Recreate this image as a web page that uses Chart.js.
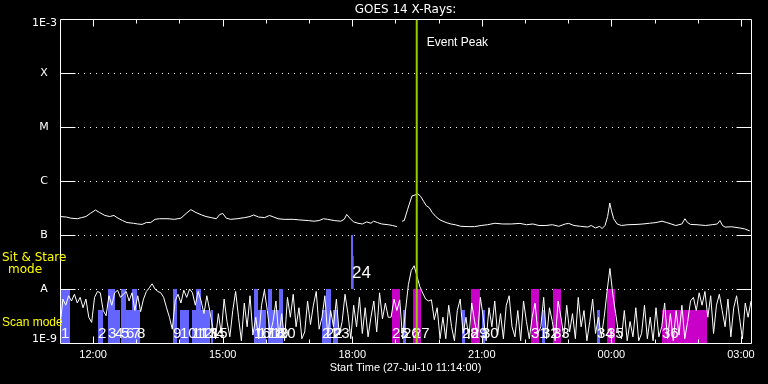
<!DOCTYPE html>
<html><head><meta charset="utf-8">
<script src="https://cdn.jsdelivr.net/npm/chart.js@4/dist/chart.umd.min.js"></script>
<style>html,body{margin:0;padding:0;background:#000;overflow:hidden}#wrap{width:768px;height:384px;position:relative}</style>
</head><body><div id="wrap"><canvas id="c" width="768" height="384"></canvas></div>
<script>
// ---------- text ----------
const titleText = 'GOES 14 X-Rays:';
const xAxisTitle = 'Start Time (27-Jul-10 11:14:00)';
const eventLabel = 'Event Peak';
const sitLabel = ['Sit & Stare', 'mode'];
const scanLabel = 'Scan mode';

// ---------- axes (x in hours after 11:14) ----------
const xMinHours = 0;
const xMaxHours = 16;
const xMajorHours = [0.767, 3.767, 6.767, 9.767, 12.767, 15.767];
const xMajorLabels = ['12:00', '15:00', '18:00', '21:00', '00:00', '03:00'];
const xMinorHours = [1.767, 2.767, 4.767, 5.767, 7.767, 8.767, 10.767, 11.767, 13.767, 14.767];
const yTickValues = [1e-9, 1e-8, 1e-7, 1e-6, 1e-5, 1e-4, 1e-3];
const yTickLabels = ['1E-9', 'A', 'B', 'C', 'M', 'X', '1E-3'];

// ---------- event ----------
const eventPeakHours = 8.26;

// ---------- GOES long channel (1-8 A), flux in units of 1e-7 W/m2 ----------
const longTimeH = [0.00,0.15,0.25,0.40,0.50,0.60,0.70,0.82,0.92,1.04,
1.15,1.25,1.32,1.45,1.55,1.70,1.80,1.90,2.00,2.10,
2.20,2.30,2.50,2.65,2.80,2.92,3.03,3.15,3.28,3.38,
3.50,3.62,3.70,3.77,3.85,3.95,4.10,4.28,4.40,4.48,
4.60,4.74,4.85,4.95,5.05,5.19,5.40,5.55,5.75,5.88,
6.00,6.10,6.20,6.35,6.50,6.58,6.64,6.72,6.80,6.90,
7.00,7.10,7.20,7.26,7.35,7.45,7.60,7.70,7.80,7.85,
7.92,7.97,8.05,8.15,8.22,8.28,8.35,8.42,8.48,8.55,
8.62,8.70,8.80,8.94,9.05,9.15,9.28,9.45,9.60,9.75,
9.90,10.07,10.25,10.45,10.65,10.80,10.95,11.09,11.25,11.40,
11.55,11.70,11.78,11.90,12.05,12.22,12.30,12.40,12.50,12.55,
12.62,12.68,12.73,12.77,12.82,12.90,13.00,13.15,13.36,13.50,
13.65,13.80,13.94,14.05,14.15,14.26,14.40,14.47,14.53,14.60,
14.75,14.95,15.10,15.22,15.28,15.34,15.40,15.55,15.74,15.85,
15.97];
const longFluxE7 = [2.2,2.15,2.05,2.0,2.1,2.2,2.5,2.9,2.6,2.3,
2.2,2.3,2.1,1.85,1.7,1.65,1.6,1.57,1.7,1.7,
1.95,2.0,2.0,1.95,2.05,2.5,2.95,2.6,2.35,2.2,
2.1,2.0,2.4,2.5,2.05,1.95,2.0,2.1,2.2,2.35,
2.15,2.1,2.3,2.15,2.0,1.95,1.95,1.9,1.85,1.8,
1.85,2.0,1.95,1.85,1.8,1.95,2.4,2.0,1.75,1.65,
1.6,1.75,1.65,1.8,1.7,1.6,1.55,1.5,1.43,null,
1.8,1.85,3.0,5.3,5.5,5.85,5.2,4.2,3.5,3.2,
2.6,2.2,1.9,1.7,1.6,1.55,1.45,1.43,1.43,1.5,
1.55,1.65,1.6,1.6,1.64,1.55,1.6,1.5,1.5,1.55,
1.45,1.6,1.64,1.5,1.45,1.4,1.5,1.35,1.45,1.31,
1.5,2.2,3.9,2.8,2.0,1.6,1.5,1.55,1.57,1.6,
1.65,1.7,1.8,1.7,1.6,1.5,1.6,2.0,1.7,1.57,
1.55,1.5,1.55,1.6,1.85,1.5,1.4,1.42,1.35,1.3,
1.19];

// ---------- GOES short channel (0.5-4 A), one sample every 4 min, units of 1e-9 W/m2 ----------
const shortStepHours = 4 / 60;
const shortFluxE9 = [
2.0,6.5,5.0,7.5,6.0,8.0,5.5,7.0,4.5,6.5, 3.0,2.4,7.0,9.0,8.5,4.0,3.2,7.5,5.0,8.5,
9.5,7.0,8.0,9.0,6.0,8.5,4.0,7.5,3.8,6.5, 9.0,10.5,12.5,10.0,9.0,8.5,
7.0,4.5,3.0,1.8,6.0,8.0,5.5,9.5,7.0,10.0, 8.5,5.0,9.0,6.0,3.5,7.5,4.0,
2.0,1.2,3.5,1.5,6.5,2.5,1.3,4.0,9.0,3.0, 1.1,5.5,2.0,7.5,1.4,3.0,1.2,5.0,9.5,4.0,
1.5,2.5,6.0,1.3,3.5,1.1,7.0,3.0,8.0,2.0, 4.5,1.2,1.6,6.0,2.2,5.0,9.0,1.8,3.0,7.5,
1.3,4.0,2.0,6.5,1.4,2.5,8.0,3.5,1.2,5.0, 2.0,7.0,1.5,4.5,1.3,3.0,6.0,1.6,8.5,2.8,
5.5,3.0,
3.0,6.5,4.0,6.3,1.2,4.0,12,22,27,17, 11,8.4,6.5,6.0,6.3,2.7,4.5,1.2,
3.0,1.2,5.0,2.0,1.1,4.0,6.5,1.5,3.0,1.2, 5.5,2.5,1.3,7.0,3.0,1.1,4.5,2.0,6.0,1.4,
3.5,1.2,5.0,7.5,2.0,1.3,4.0,1.1,6.0,2.5, 1.2,3.0,5.5,1.5,2.0,7.0,1.2,4.5,2.5,1.1,
6.0,3.0,1.3,5.0,1.6,3.5,1.2,7.0,2.0,4.0, 1.1,2.5,6.5,1.5,3.0,1.3,
3.0,9.0,24,8.0,3.5,1.5,
1.2,4.0,1.1,2.5,1.3,4.5,1.1,1.5,5.0,1.2, 3.0,1.1,4.5,1.3,2.0,5.5,1.2,3.5,1.1,4.0,
1.4,5.0,1.2,2.5,6.0,
7.0,4.0,8.5,5.0,9.0,3.0,7.5,1.5,5.0,8.0, 4.0,2.0,6.5,1.3,4.5,7.5,3.0,1.2,5.5,3.0,
6.0];

// ---------- EIS rasters (hours after start, flux levels, kind b=scan / m=sit) ----------
const rasterLabel = ['1','2','3','4','5','6','7','8','9','10','11','12','13','14','15',
'16','17','18','19','20','21','22','23','24','','25','26','27','28','29','30','31','32','33','34','35','36'];
const rasterStartH = [0.023,0.880,1.111,1.274,1.412,1.528,1.667,1.783,2.616,2.779,3.056,3.149,3.265,3.427,3.496,
4.492,4.585,4.816,4.909,5.071,6.067,6.159,6.321,6.738,6.784,7.687,7.942,8.174,9.308,9.517,9.771,10.906,11.160,11.415,12.434,12.666,13.939];
const rasterEndH = [0.232,0.996,1.274,1.389,1.528,1.667,1.783,1.852,2.709,2.987,3.149,3.265,3.427,3.473,3.543,
4.585,4.770,4.909,5.071,5.164,6.159,6.275,6.437,6.784,6.819,7.873,8.012,8.359,9.378,9.725,9.841,11.091,11.230,11.600,12.503,12.851,14.981];
const rasterLow = [1e-9,1e-9,1e-9,1e-9,1e-9,1e-9,1e-9,1e-9,1e-9,1e-9,1e-9,1e-9,1e-9,1e-9,1e-9,
1e-9,1e-9,1e-9,1e-9,1e-9,1e-9,1e-9,1e-9,1e-8,1e-8,1e-9,1e-9,1e-9,1e-9,1e-9,1e-9,1e-9,1e-9,1e-9,1e-9,1e-9,1e-9];
const rasterHigh = [1e-8,4.1e-9,1e-8,4.1e-9,1e-8,4.1e-9,1e-8,4.1e-9,1e-8,4.1e-9,4.1e-9,1e-8,4.1e-9,4.1e-9,4.1e-9,
1e-8,4.1e-9,1e-8,4.1e-9,1e-8,4.1e-9,1e-8,4.1e-9,1e-7,4.1e-8,1e-8,4.1e-9,1e-8,4.1e-9,1e-8,4.1e-9,1e-8,4.1e-9,1e-8,4.1e-9,1e-8,4.1e-9];
const rasterKind = ['b','b','b','b','b','b','b','b','b','b','b','b','b','b','b',
'b','b','b','b','b','b','b','b','b','m','m','b','m','b','m','b','m','b','m','b','m','m'];

// ---------- build ----------
const kindColor = { b: '#6464ff', m: '#c800c8' };
const longData = longTimeH.map((t, i) => ({ x: t, y: longFluxE7[i] === null ? null : longFluxE7[i] * 1e-7 }));
const shortData = shortFluxE9.map((v, i) => ({ x: i * shortStepHours, y: v * 1e-9 }));
const eventData = [{ x: eventPeakHours, y: yTickValues[0] }, { x: eventPeakHours, y: yTickValues[yTickValues.length - 1] }];

const FONT_SANS = '"Liberation Sans", Arial, sans-serif';
const FONT_DV = '"DejaVu Sans", sans-serif';

const idlPlugin = {
  id: 'idl',
  beforeDraw(chart) {
    const ctx = chart.ctx;
    ctx.save(); ctx.fillStyle = '#000'; ctx.fillRect(0, 0, chart.width, chart.height); ctx.restore();
  },
  beforeDatasetsDraw(chart) {
    const { ctx, chartArea: a, scales: { x, y } } = chart;
    ctx.save();
    // dotted decade lines
    ctx.strokeStyle = '#fff'; ctx.lineWidth = 1; ctx.setLineDash([1, 5]);
    for (let i = 1; i < yTickValues.length - 1; i++) {
      const py = Math.round(y.getPixelForValue(yTickValues[i])) + 0.5;
      ctx.beginPath(); ctx.moveTo(a.left + 18, py); ctx.lineTo(a.right - 14, py); ctx.stroke();
    }
    ctx.setLineDash([]);
    // raster bars
    for (let i = 0; i < rasterStartH.length; i++) {
      const x0 = Math.round(x.getPixelForValue(rasterStartH[i]));
      const x1 = Math.round(x.getPixelForValue(rasterEndH[i]));
      const y0 = Math.round(y.getPixelForValue(rasterLow[i]));
      const y1 = Math.round(y.getPixelForValue(rasterHigh[i]));
      ctx.fillStyle = kindColor[rasterKind[i]];
      ctx.fillRect(x0, y1, Math.max(1, x1 - x0), y0 - y1);
    }
    // raster numbers
    ctx.fillStyle = '#fff'; ctx.textAlign = 'left'; ctx.textBaseline = 'alphabetic';
    for (let i = 0; i < rasterStartH.length; i++) {
      if (!rasterLabel[i]) continue;
      const x0 = Math.round(x.getPixelForValue(rasterStartH[i]));
      const y0 = Math.round(y.getPixelForValue(rasterLow[i]));
      if (rasterLow[i] <= yTickValues[0]) {
        ctx.font = '15px ' + FONT_SANS;
        ctx.fillText(rasterLabel[i], x0, a.bottom - 5);
      } else {
        ctx.font = '17px ' + FONT_SANS;
        ctx.fillText(rasterLabel[i], x0 + 1, y0 - 11);
      }
    }
    ctx.restore();
  },
  afterDatasetsDraw(chart) {
    const { ctx, chartArea: a, scales: { x, y } } = chart;
    const L = a.left + 0.5, R = Math.round(a.right) + 0.5, T = Math.round(a.top) + 0.5, B = Math.round(a.bottom) + 0.5;
    ctx.save();
    ctx.strokeStyle = '#fff'; ctx.lineWidth = 1;
    ctx.beginPath(); ctx.rect(L, T, R - L, B - T); ctx.stroke();
    // y ticks on both sides
    for (let i = 1; i < yTickValues.length - 1; i++) {
      const py = Math.round(y.getPixelForValue(yTickValues[i])) + 0.5;
      ctx.beginPath(); ctx.moveTo(L, py); ctx.lineTo(L + 15, py); ctx.moveTo(R, py); ctx.lineTo(R - 15, py); ctx.stroke();
    }
    // x ticks top & bottom
    xMajorHours.forEach(h => {
      const px = Math.round(x.getPixelForValue(h)) + 0.5;
      ctx.beginPath(); ctx.moveTo(px, T); ctx.lineTo(px, T + 7); ctx.moveTo(px, B); ctx.lineTo(px, B - 7); ctx.stroke();
    });
    xMinorHours.forEach(h => {
      const px = Math.round(x.getPixelForValue(h)) + 0.5;
      ctx.beginPath(); ctx.moveTo(px, T); ctx.lineTo(px, T + 4); ctx.moveTo(px, B); ctx.lineTo(px, B - 4); ctx.stroke();
    });
    // y tick labels
    ctx.fillStyle = '#fff'; ctx.font = '11px ' + FONT_DV; ctx.textBaseline = 'middle';
    yTickLabels.forEach((lab, i) => {
      let py = y.getPixelForValue(yTickValues[i]);
      if (i === 0) { py -= 4; } else if (i === yTickLabels.length - 1) { py += 4; }
      if (lab.length === 1) { ctx.textAlign = 'center'; ctx.fillText(lab, a.left - 16, py); }
      else { ctx.textAlign = 'right'; ctx.fillText(lab, a.left - 3, py); }
    });
    // x tick labels
    ctx.font = '11px ' + FONT_SANS; ctx.textAlign = 'center';
    xMajorLabels.forEach((lab, i) => ctx.fillText(lab, x.getPixelForValue(xMajorHours[i]), a.bottom + 12));
    ctx.fillText(xAxisTitle, (a.left + a.right) / 2, a.bottom + 25);
    // event label
    ctx.font = '12px ' + FONT_SANS; ctx.textAlign = 'left';
    ctx.fillText(eventLabel, x.getPixelForValue(eventPeakHours) + 10, a.top + 24);
    // mode labels
    ctx.fillStyle = '#ffff00';
    ctx.font = '12px ' + FONT_DV; ctx.textAlign = 'left';
    ctx.fillText(sitLabel[0], 2, 258);
    ctx.textAlign = 'center'; ctx.fillText(sitLabel[1], 25, 270);
    ctx.font = '12px ' + FONT_SANS; ctx.textAlign = 'left';
    ctx.fillText(scanLabel, 2, 323);
    ctx.restore();
  }
};

new Chart(document.getElementById('c'), {
  type: 'line',
  data: {
    datasets: [
      { label: 'Event Peak', data: eventData, borderColor: '#99cc00', borderWidth: 2, pointRadius: 0, order: 0 },
      { label: 'GOES 1-8 A', data: longData, borderColor: '#ffffff', borderWidth: 1, pointRadius: 0, tension: 0, spanGaps: false, order: 1 },
      { label: 'GOES 0.5-4 A', data: shortData, borderColor: '#ffffff', borderWidth: 1, pointRadius: 0, tension: 0, order: 2 }
    ]
  },
  options: {
    responsive: false,
    animation: false,
    devicePixelRatio: 1,
    parsing: true,
    layout: { padding: { left: 60, right: 17, top: 0, bottom: 41 } },
    plugins: {
      legend: { display: false },
      tooltip: { enabled: false },
      title: { display: true, text: titleText, color: '#ffffff', font: { family: 'DejaVu Sans', size: 12, weight: 'normal' }, padding: { top: 3, bottom: 1.6 } }
    },
    scales: {
      x: { type: 'linear', min: xMinHours, max: xMaxHours, display: false },
      y: { type: 'logarithmic', min: yTickValues[0], max: yTickValues[yTickValues.length - 1], display: false }
    }
  },
  plugins: [idlPlugin]
});
</script>
</body></html>
